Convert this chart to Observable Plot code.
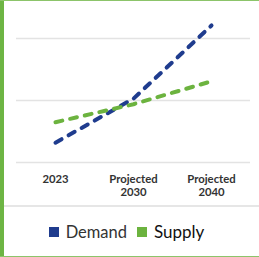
<!DOCTYPE html>
<html>
<head>
<meta charset="utf-8">
<script src="https://cdn.jsdelivr.net/npm/d3@7"></script>
<script src="https://cdn.jsdelivr.net/npm/@observablehq/plot@0.6"></script>
<style>
  html, body { margin: 0; padding: 0; background: #fff; }
  #wrap { position: relative; width: 259px; height: 257px; overflow: hidden; background: #fff; font-family: Lato, "Open Sans", sans-serif; }
  #leftbar { position: absolute; left: 0; top: 0; width: 4px; height: 257px; background: #6db544; }
  #topbar { position: absolute; left: 0; top: 0; width: 259px; height: 1px; background: #8cc46a; }
  #botbar { position: absolute; left: 0; top: 256px; width: 259px; height: 1px; background: #8cc46a; }
  #sep { position: absolute; left: 4px; top: 205px; width: 255px; height: 1.5px; background: #e6e6e6; }
  #chart { position: absolute; left: 0; top: 0; }
  #legend { position: absolute; left: 0; top: 221px; width: 253px; display: flex; justify-content: center; align-items: center; font-size: 16.5px; color: #333; }
  .item { display: flex; align-items: center; margin: 0 5px; }
  .sw { width: 10px; height: 10px; margin-right: 7px; }
</style>
</head>
<body>
<div id="wrap">
  <div id="chart"></div>
  <div id="sep"></div>
  <div id="leftbar"></div>
  <div id="topbar"></div>
  <div id="botbar"></div>
  <div id="legend"></div>
</div>
<script>
const categories = ["2023", "Projected\n2030", "Projected\n2040"];
const demand = [3.2, 10.3, 22.1];
const supply = [6.5, 9.4, 13.1];
const seriesNames = ["Demand", "Supply"];
const seriesColors = ["#1f3c8e", "#6cb33f"];
const yTicks = [0, 10, 20];

const rows = [];
categories.forEach((c, i) => {
  rows.push({cat: c, series: "Demand", value: demand[i]});
  rows.push({cat: c, series: "Supply", value: supply[i]});
});

const chart = Plot.plot({
  width: 259,
  height: 206,
  marginLeft: 16,
  marginRight: 9,
  marginTop: 7,
  marginBottom: 44,
  style: {fontFamily: "Lato, 'Open Sans', sans-serif", background: "transparent"},
  x: {type: "point", domain: categories, padding: 0.5},
  y: {domain: [0, 25]},
  color: {domain: seriesNames, range: seriesColors},
  marks: [
    Plot.ruleY(yTicks, {stroke: "#e3e3e3", strokeWidth: 1.5}),
    Plot.axisX({tickSize: 0, tickPadding: 12, fontSize: 11.3, fontWeight: "bold", fill: "#333", lineHeight: 1.1, label: null}),
    Plot.axisY({ticks: [], label: null}),
    Plot.line(rows, {x: "cat", y: "value", z: "series", stroke: "series", strokeWidth: 4, strokeDasharray: "7,8", strokeLinecap: "round"})
  ]
});
document.getElementById("chart").appendChild(chart);

const legend = document.getElementById("legend");
seriesNames.forEach((n, i) => {
  const it = document.createElement("div");
  it.className = "item";
  const sw = document.createElement("div");
  sw.className = "sw";
  sw.style.background = seriesColors[i];
  const t = document.createElement("span");
  t.textContent = n;
  if (n === "Supply") { t.style.fontSize = "17px"; t.style.color = "#111"; }
  it.appendChild(sw);
  it.appendChild(t);
  legend.appendChild(it);
});
</script>
</body>
</html>
